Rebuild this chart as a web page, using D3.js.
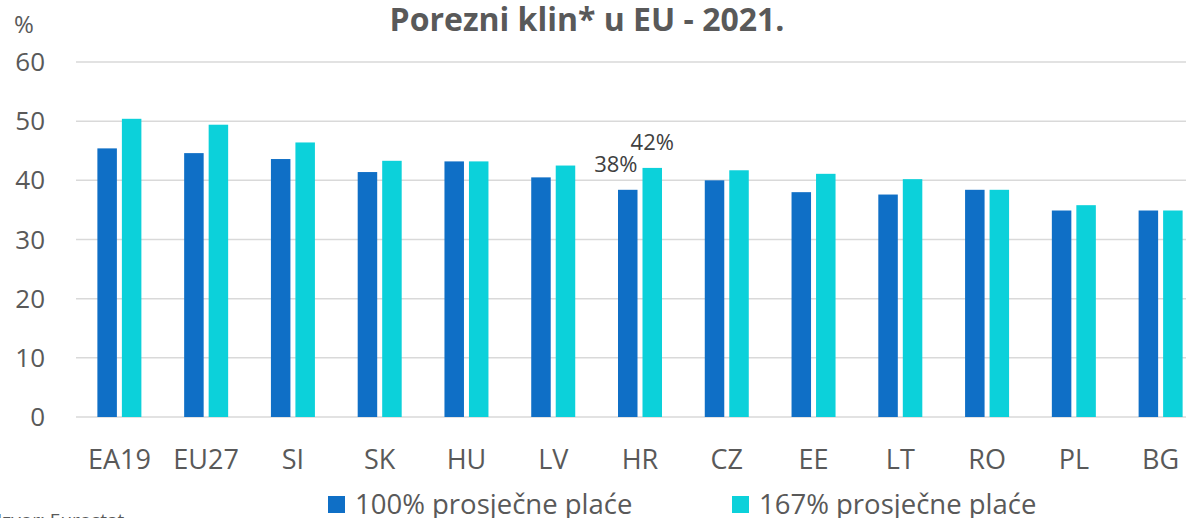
<!DOCTYPE html>
<html>
<head>
<meta charset="utf-8">
<script src="https://cdn.jsdelivr.net/npm/d3@7"></script>
<style>
  body { margin: 0; background: #fff; }
  svg { display: block; font-family: "Open Sans", Lato, sans-serif; }
</style>
</head>
<body>
<div id="chart"></div>
<script>
// Data
var categories = ["EA19", "EU27", "SI", "SK", "HU", "LV", "HR", "CZ", "EE", "LT", "RO", "PL", "BG"];
var seriesNames = ["100% prosječne plaće", "167% prosječne plaće"];
var wage100 = [45.4, 44.6, 43.6, 41.4, 43.2, 40.5, 38.4, 40.0, 38.0, 37.6, 38.4, 34.9, 34.9];
var wage167 = [50.4, 49.4, 46.4, 43.3, 43.2, 42.5, 42.1, 41.7, 41.1, 40.2, 38.4, 35.8, 34.9];
var yTicks = [0, 10, 20, 30, 40, 50, 60];
var colors = ["#0F6FC6", "#0CD1DA"];

// Set the dimensions of the svg
var svgWidth = 1186;
var svgHeight = 518;
var plot = {left: 76, right: 1204, top: 62, bottom: 417};

var svg = d3.select("#chart")
    .append("svg")
        .attr("width", svgWidth)
        .attr("height", svgHeight);

var rows = categories.map(function(c, i) {
    return {cat: c, values: [wage100[i], wage167[i]]};
});

var y = d3.scaleLinear()
    .domain([0, 60])
    .range([plot.bottom, plot.top]);

var x0 = d3.scaleBand()
    .domain(categories)
    .range([plot.left, plot.right])
    .padding(0);

var half = x0.bandwidth() / 2;
var x1 = d3.scaleBand()
    .domain([0, 1])
    .range([half - 22, half + 22])
    .paddingInner(0.204)
    .paddingOuter(0);

// Gridlines
svg.append("g")
    .selectAll("line")
    .data(yTicks)
    .enter()
    .append("line")
        .attr("x1", plot.left)
        .attr("x2", svgWidth)
        .attr("y1", function(d){ return y(d) })
        .attr("y2", function(d){ return y(d) })
        .attr("stroke", "#d9d9d9")
        .attr("stroke-width", 1.5);

// Y tick labels
svg.append("g")
    .selectAll("text")
    .data(yTicks)
    .enter()
    .append("text")
        .attr("x", 45)
        .attr("y", function(d){ return y(d) + 9 })
        .attr("text-anchor", "end")
        .attr("font-size", "26px")
        .attr("fill", "#595959")
        .text(function(d){ return d });

svg.append("text")
    .attr("x", 14)
    .attr("y", 33)
    .attr("font-size", "24px")
    .attr("fill", "#595959")
    .text("%");

// Bars
var groups = svg.append("g")
    .selectAll("g")
    .data(rows)
    .enter()
    .append("g")
        .attr("transform", function(d){ return "translate(" + x0(d.cat) + ",0)" });

groups.selectAll("rect")
    .data(function(d){ return d.values.map(function(v, k){ return {k: k, v: v} }) })
    .enter()
    .append("rect")
        .attr("x", function(d){ return x1(d.k) })
        .attr("y", function(d){ return y(d.v) })
        .attr("width", x1.bandwidth())
        .attr("height", function(d){ return y(0) - y(d.v) })
        .attr("fill", function(d){ return colors[d.k] });

// X category labels
svg.append("g")
    .selectAll("text")
    .data(categories)
    .enter()
    .append("text")
        .attr("x", function(d){ return x0(d) + half })
        .attr("y", 469)
        .attr("text-anchor", "middle")
        .attr("font-size", "27px")
        .attr("fill", "#595959")
        .text(function(d){ return d });

// Data labels for HR
var hr = categories.indexOf("HR");
svg.append("text")
    .attr("x", x0("HR") + x1(0) + x1.bandwidth())
    .attr("y", y(wage100[hr]) - 18)
    .attr("text-anchor", "end")
    .attr("font-size", "22px")
    .attr("fill", "#404040")
    .text(Math.round(wage100[hr]) + "%");
svg.append("text")
    .attr("x", x0("HR") + x1(1) + x1.bandwidth() / 2)
    .attr("y", y(wage167[hr]) - 18)
    .attr("text-anchor", "middle")
    .attr("font-size", "22px")
    .attr("fill", "#404040")
    .text(Math.round(wage167[hr]) + "%");

// Title
svg.append("text")
    .attr("x", 587)
    .attr("y", 31)
    .attr("text-anchor", "middle")
    .attr("font-size", "32px")
    .attr("font-weight", "bold")
    .attr("fill", "#595959")
    .text("Porezni klin* u EU - 2021.");

// Legend
var legendX = [328, 732];
var legend = svg.append("g")
    .selectAll("g")
    .data(seriesNames)
    .enter()
    .append("g")
        .attr("transform", function(d, i){ return "translate(" + legendX[i] + ",496)" });
legend.append("rect")
    .attr("width", 17)
    .attr("height", 17)
    .attr("fill", function(d, i){ return colors[i] });
legend.append("text")
    .attr("x", 27)
    .attr("y", 18)
    .attr("font-size", "27.5px")
    .attr("fill", "#595959")
    .text(function(d){ return d });

// Source note (cut by the bottom edge)
svg.append("text")
    .attr("x", -3)
    .attr("y", 527)
    .attr("font-size", "19px")
    .attr("fill", "#595959")
    .text("Izvor: Eurostat");
</script>
</body>
</html>
